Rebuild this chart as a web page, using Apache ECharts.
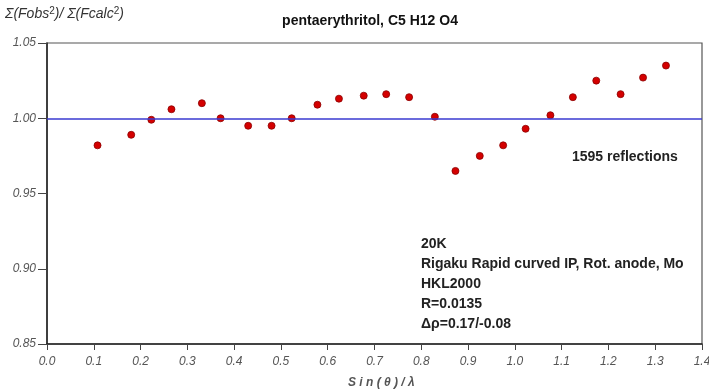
<!DOCTYPE html>
<html><head><meta charset="utf-8">
<script src="https://cdn.jsdelivr.net/npm/echarts@6/dist/echarts.min.js"></script>
<style>html,body{margin:0;padding:0;background:#fff}#c{width:709px;height:392px}</style>
</head><body><div id="c"></div>
<script>
const titleText = 'pentaerythritol, C5 H12 O4';
const sinThetaLambda = [0.108,0.180,0.223,0.266,0.331,0.371,0.430,0.480,0.523,0.578,0.624,0.677,0.725,0.774,0.829,0.873,0.925,0.975,1.023,1.076,1.124,1.174,1.226,1.274,1.323];
const ratio = [0.982,0.989,0.999,1.006,1.010,1.000,0.995,0.995,1.000,1.009,1.013,1.015,1.016,1.014,1.001,0.965,0.975,0.982,0.993,1.002,1.014,1.025,1.016,1.027,1.035];
const refLine = 1.00;
const reflectionsNote = '1595 reflections';
const infoLines = ['20K','Rigaku Rapid curved IP, Rot. anode, Mo','HKL2000','R=0.0135','\u0394\u03c1=0.17/-0.08'];

const chart = echarts.init(document.getElementById('c'));
const fontFam = '"Liberation Sans", Arial, sans-serif';
chart.setOption({
  animation:false,
  backgroundColor:'#fff',
  title:{text:titleText,left:365,top:9,textAlign:'center',textStyle:{fontFamily:fontFam,fontSize:14,fontWeight:'bold',color:'#111'}},
  grid:{left:47,right:7,top:43,bottom:48,show:true,borderColor:'#555',borderWidth:1.2,outerBoundsMode:'none',containLabel:false},
  xAxis:{type:'value',min:0,max:1.4,interval:0.1,
    axisLine:{onZero:false,lineStyle:{color:'#222',width:1.5}},
    axisTick:{show:true,length:6,lineStyle:{color:'#444'}},
    splitLine:{show:false},
    axisLabel:{margin:12,fontFamily:fontFam,fontStyle:'italic',fontSize:12,color:'#555',formatter:v=>v.toFixed(1)}},
  yAxis:{type:'value',min:0.85,max:1.05,interval:0.05,
    axisLine:{show:true,onZero:false,lineStyle:{color:'#222',width:1.5}},
    axisTick:{show:true,length:9,lineStyle:{color:'#444'}},
    splitLine:{show:false},
    axisLabel:{margin:11,fontFamily:fontFam,fontStyle:'italic',fontSize:12,color:'#555',formatter:v=>v.toFixed(2)}},
  series:[{type:'scatter',data:sinThetaLambda.map((x,i)=>[x,ratio[i]]),symbolSize:7,
    itemStyle:{color:'#d40000',borderColor:'#8a0000',borderWidth:0.8,opacity:1},
    markLine:{silent:true,symbol:['none','none'],label:{show:false},lineStyle:{color:'#3a3ad0',width:1.5,type:'solid'},data:[{yAxis:refLine}]}
  }],
  graphic:[
    {type:'text',left:5,top:6,style:{text:'{i|\u03a3(Fobs}{s|2}{i|)/ \u03a3(Fcalc}{s|2}{i|)}',
      rich:{i:{fontFamily:fontFam,fontStyle:'italic',fontSize:14,fill:'#333'},s:{fontFamily:fontFam,fontSize:10,fill:'#333',verticalAlign:'top',padding:[0,0,6,0]}}}},
    {type:'text',left:348,top:377,style:{text:'S i n ( \u03b8 ) / \u03bb',fontFamily:fontFam,fontStyle:'italic',fontWeight:'bold',fontSize:12,fill:'#555'}},
    {type:'text',left:572,top:150,style:{text:reflectionsNote,fontFamily:fontFam,fontWeight:'bold',fontSize:14,fill:'#222'}},
    {type:'text',left:421,top:234,style:{text:infoLines.join('\n'),lineHeight:20,fontFamily:fontFam,fontWeight:'bold',fontSize:14,fill:'#222'}}
  ]
});
</script></body></html>
